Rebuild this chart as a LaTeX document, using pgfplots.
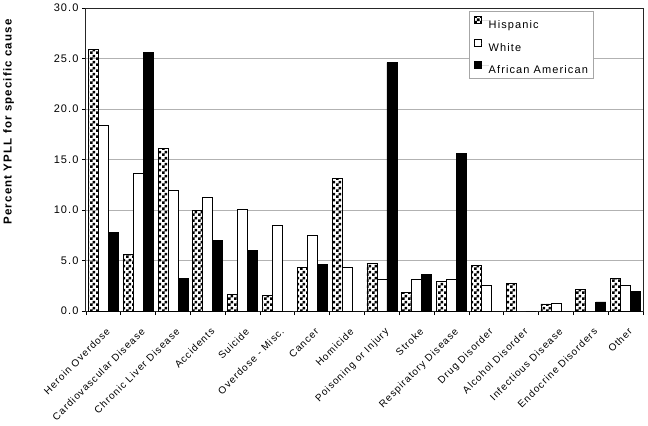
\documentclass[border=0pt]{standalone}
\usepackage{fontspec}
\setmainfont{Liberation Sans}[LetterSpace=10]
\usepackage{pgfplots}
\usepackage{pgfplotstable}
\pgfplotsset{compat=1.18}
\usetikzlibrary{patterns}
\pgfdeclarepatternformonly{xcheck}{\pgfpointorigin}{\pgfpoint{6bp}{6bp}}{\pgfpoint{6bp}{6bp}}{%
  \pgfpathrectangle{\pgfpointorigin}{\pgfpoint{3bp}{3bp}}%
  \pgfpathrectangle{\pgfpoint{3bp}{3bp}}{\pgfpoint{3bp}{3bp}}%
  \pgfusepath{fill}}

\pgfplotstableread{
x H W AA
0 25.9 18.4 7.8
1 5.6 13.6 25.6
2 16.1 11.9 3.2
3 10.0 11.2 7.0
4 1.6 10.1 6.0
5 1.5 8.5 0
6 4.3 7.5 4.6
7 13.1 4.3 0
8 4.7 3.1 24.6
9 1.8 3.1 3.6
10 2.9 3.1 15.6
11 4.5 2.5 0
12 2.7 0 0
13 0.7 0.8 0
14 2.1 0 0.9
15 3.2 2.5 1.9
}\datatable

\begin{document}
\begin{tikzpicture}
\path[use as bounding box] (-86bp,-115bp) rectangle (562bp,311bp);
\begin{axis}[
  at={(0,0)}, anchor=south west,
  width=557bp, height=303bp, scale only axis,
  xmin=-0.5, xmax=15.5, ymin=0, ymax=30,
  ybar=0pt, bar width=10bp,
  ytick={0,5,...,30},
  xtick={0,...,15},
  xticklabels={Heroin Overdose, Cardiovascular Disease, Chronic Liver Disease, Accidents, Suicide, Overdose - Misc., Cancer, Homicide, Poisoning or Injury, Stroke, Respiratory Disease, Drug Disorder, Alcohol Disorder, Infectious Disease, Endocrine Disorders, Other},
  minor xtick={-0.5,0.5,...,15.5},
  major x tick style={draw=none},
  tick align=outside, tick pos=left,
  major tick length=4bp, minor tick length=4bp,
  tick style={black, line width=0.8bp},
  x tick label style={rotate=45, anchor=north east, inner sep=0pt, xshift=-7bp, yshift=-10bp, font=\fontsize{10bp}{12bp}\selectfont},
  y tick label style={font=\fontsize{11bp}{13bp}\selectfont, /pgf/number format/.cd, fixed, fixed zerofill, precision=1, assume math mode=true},
  ymajorgrids, major grid style={gray!60, line width=0.9bp},
  axis line style={black!85, line width=1bp},
  ylabel={\bfseries Percent YPLL for specific cause},
  ylabel style={at={(axis description cs:-0.129,0.624)}, anchor=south, inner sep=0pt, font=\fontsize{11.5bp}{13bp}\selectfont},
  legend style={at={(0.6876,0.99)}, anchor=north west, draw=gray!70, line width=0.8bp,
    font=\fontsize{11bp}{13bp}\selectfont, inner xsep=5bp, inner ysep=5bp, row sep=10bp,
    nodes={inner sep=0pt, text height=10bp, text depth=0bp}},
  legend cell align=left,
  legend image code/.code={\draw[#1, line width=0.7bp] (0bp,0bp) rectangle (7bp,7bp); \path[draw=none] (0bp,3bp) -- (14bp,3bp);},
]
\addplot[draw=black, line width=0.8bp, pattern=xcheck, pattern color=black] table[x=x, y=H] {\datatable};
\addplot[draw=black, line width=0.8bp, fill=white] table[x=x, y=W] {\datatable};
\addplot[draw=black, line width=0.8bp, fill=black] table[x=x, y=AA] {\datatable};
\legend{Hispanic, White, African American}
\end{axis}
\end{tikzpicture}
\end{document}
